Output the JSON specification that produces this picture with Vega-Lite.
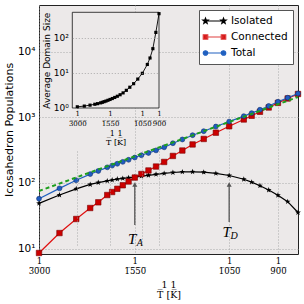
{
  "$schema": "https://vega.github.io/schema/vega-lite/v6.json",
  "width": 259,
  "height": 249,
  "autosize": {"type": "none"},
  "padding": {"left": 39, "top": 5, "right": 6, "bottom": 50},
  "background": "white",
  "config": {
    "font": "DejaVu Sans",
    "view": {"fill": "#ece9e9", "stroke": "#222222", "strokeWidth": 1},
    "axis": {"domain": false, "ticks": false, "gridColor": "#9a9a9a", "gridDash": [1, 2], "gridWidth": 0.8, "labelColor": "#000000", "titleColor": "#000000", "titleFontWeight": "normal", "labelOverlap": false, "labelFlush": false, "labelBound": false},
    "legend": {"orient": "top-right", "offset": 5, "fillColor": "white", "strokeColor": "#555555", "padding": 5, "labelFontSize": 10.5, "labelFont": "DejaVu Sans", "symbolSize": 100, "symbolStrokeWidth": 1.2, "rowPadding": 4, "labelOffset": 15}
  },
  "datasets": {
    "pop": [
      {"T": 3000, "series": "Isolated", "value": 49}, {"T": 3000, "series": "Connected", "value": 8.6}, {"T": 3000, "series": "Total", "value": 57.6},
      {"T": 2500, "series": "Isolated", "value": 65.5}, {"T": 2500, "series": "Connected", "value": 17.3}, {"T": 2500, "series": "Total", "value": 82.8},
      {"T": 2200, "series": "Isolated", "value": 81.5}, {"T": 2200, "series": "Connected", "value": 28.3}, {"T": 2200, "series": "Total", "value": 109.8},
      {"T": 2000, "series": "Isolated", "value": 95}, {"T": 2000, "series": "Connected", "value": 41.6}, {"T": 2000, "series": "Total", "value": 136.6},
      {"T": 1900, "series": "Isolated", "value": 101.5}, {"T": 1900, "series": "Connected", "value": 50.8}, {"T": 1900, "series": "Total", "value": 152.3},
      {"T": 1800, "series": "Isolated", "value": 107.5}, {"T": 1800, "series": "Connected", "value": 65.6}, {"T": 1800, "series": "Total", "value": 173.1},
      {"T": 1750, "series": "Isolated", "value": 111}, {"T": 1750, "series": "Connected", "value": 72.9}, {"T": 1750, "series": "Total", "value": 183.9},
      {"T": 1700, "series": "Isolated", "value": 114.5}, {"T": 1700, "series": "Connected", "value": 81.6}, {"T": 1700, "series": "Total", "value": 196.1},
      {"T": 1650, "series": "Isolated", "value": 117.5}, {"T": 1650, "series": "Connected", "value": 92.3}, {"T": 1650, "series": "Total", "value": 209.8},
      {"T": 1600, "series": "Isolated", "value": 120}, {"T": 1600, "series": "Connected", "value": 105.4}, {"T": 1600, "series": "Total", "value": 225.4},
      {"T": 1550, "series": "Isolated", "value": 123}, {"T": 1550, "series": "Connected", "value": 121}, {"T": 1550, "series": "Total", "value": 244},
      {"T": 1500, "series": "Isolated", "value": 127}, {"T": 1500, "series": "Connected", "value": 137}, {"T": 1500, "series": "Total", "value": 264},
      {"T": 1450, "series": "Isolated", "value": 131}, {"T": 1450, "series": "Connected", "value": 155}, {"T": 1450, "series": "Total", "value": 286},
      {"T": 1400, "series": "Isolated", "value": 135.5}, {"T": 1400, "series": "Connected", "value": 178}, {"T": 1400, "series": "Total", "value": 313.5},
      {"T": 1350, "series": "Isolated", "value": 140}, {"T": 1350, "series": "Connected", "value": 209}, {"T": 1350, "series": "Total", "value": 349},
      {"T": 1300, "series": "Isolated", "value": 144.5}, {"T": 1300, "series": "Connected", "value": 258}, {"T": 1300, "series": "Total", "value": 402.5},
      {"T": 1250, "series": "Isolated", "value": 147.5}, {"T": 1250, "series": "Connected", "value": 312}, {"T": 1250, "series": "Total", "value": 459.5},
      {"T": 1200, "series": "Isolated", "value": 148}, {"T": 1200, "series": "Connected", "value": 386}, {"T": 1200, "series": "Total", "value": 534},
      {"T": 1150, "series": "Isolated", "value": 146}, {"T": 1150, "series": "Connected", "value": 468}, {"T": 1150, "series": "Total", "value": 614},
      {"T": 1100, "series": "Isolated", "value": 140}, {"T": 1100, "series": "Connected", "value": 583}, {"T": 1100, "series": "Total", "value": 723},
      {"T": 1050, "series": "Isolated", "value": 130}, {"T": 1050, "series": "Connected", "value": 730}, {"T": 1050, "series": "Total", "value": 860},
      {"T": 1000, "series": "Isolated", "value": 114}, {"T": 1000, "series": "Connected", "value": 926}, {"T": 1000, "series": "Total", "value": 1040},
      {"T": 975, "series": "Isolated", "value": 103}, {"T": 975, "series": "Connected", "value": 1055}, {"T": 975, "series": "Total", "value": 1158},
      {"T": 950, "series": "Isolated", "value": 91}, {"T": 950, "series": "Connected", "value": 1213}, {"T": 950, "series": "Total", "value": 1304},
      {"T": 925, "series": "Isolated", "value": 78}, {"T": 925, "series": "Connected", "value": 1410}, {"T": 925, "series": "Total", "value": 1488},
      {"T": 900, "series": "Isolated", "value": 65}, {"T": 900, "series": "Connected", "value": 1656}, {"T": 900, "series": "Total", "value": 1721},
      {"T": 875, "series": "Isolated", "value": 52}, {"T": 875, "series": "Connected", "value": 1933}, {"T": 875, "series": "Total", "value": 1985},
      {"T": 850, "series": "Isolated", "value": 35.5}, {"T": 850, "series": "Connected", "value": 2263}, {"T": 850, "series": "Total", "value": 2298.5}
    ],
    "fit": [
      {"T": 3000, "value": 75.5},
      {"T": 850, "value": 2037}
    ],
    "annot": [
      {"T": 1550, "sub": "A", "value": 22.9, "to": 94.8, "ty": 13.8},
      {"T": 1050, "sub": "D", "value": 25.5, "to": 94.8, "ty": 17.9}
    ],
    "frame": [
      {"T": 3500, "T2": 900, "value": 0.97, "value2": 525}
    ],
    "avg": [
      {"T": 3000, "value": 1.05}, {"T": 2500, "value": 1.10}, {"T": 2200, "value": 1.17}, {"T": 2000, "value": 1.24},
      {"T": 1900, "value": 1.29}, {"T": 1800, "value": 1.36}, {"T": 1750, "value": 1.41}, {"T": 1700, "value": 1.47},
      {"T": 1650, "value": 1.53}, {"T": 1600, "value": 1.61}, {"T": 1550, "value": 1.70}, {"T": 1500, "value": 1.81},
      {"T": 1450, "value": 1.94}, {"T": 1400, "value": 2.10}, {"T": 1350, "value": 2.32}, {"T": 1300, "value": 2.62},
      {"T": 1250, "value": 3.1}, {"T": 1200, "value": 3.8}, {"T": 1150, "value": 4.8}, {"T": 1100, "value": 6.5},
      {"T": 1050, "value": 9.5}, {"T": 1000, "value": 17}, {"T": 975, "value": 26}, {"T": 950, "value": 48},
      {"T": 925, "value": 140}, {"T": 900, "value": 480}
    ]
  },
  "layer": [
    {
      "encoding": {
        "x": {"field": "T", "type": "quantitative",
          "scale": {"type": "pow", "exponent": -1, "domain": [3000, 850], "nice": false, "zero": false},
          "axis": {"orient": "bottom", "values": [3000, 1550, 1050, 900], "labelExpr": "['1', replace(toString(datum.value), regexp('([0-9])','g'), '$1\u0305')]", "labelFont": "DejaVu Serif", "labelFontSize": 8.5, "labelLineHeight": 10, "labelPadding": 2, "grid": true,
            "title": ["1    1 ", "T\u0305  [K\u0305]"], "titleFont": "DejaVu Serif", "titleFontSize": 9.5, "titleLineHeight": 10, "titlePadding": 5}},
        "y": {"field": "value", "type": "quantitative",
          "scale": {"type": "log", "domain": [8.3, 51200], "nice": false},
          "axis": {"orient": "left", "values": [10, 100, 1000, 10000], "labelExpr": "'10' + ['\u2070','\u00b9','\u00b2','\u00b3','\u2074','\u2075'][round(log(datum.value)/LN10)]", "labelFontSize": 10.5, "labelPadding": 4, "grid": true,
            "title": "Icosahedron Populations", "titleFontSize": 11, "titlePadding": 3}}
      },
      "layer": [
        {"data": {"name": "pop"}, "transform": [{"filter": "datum.series === 'Isolated'"}],
         "mark": {"type": "line", "color": "#000000", "strokeWidth": 1.2}},
        {"data": {"name": "pop"}, "transform": [{"filter": "datum.series === 'Isolated'"}],
         "mark": {"type": "point", "shape": "M0,-1L0.235,-0.324L0.951,-0.309L0.380,0.124L0.588,0.809L0,0.4L-0.588,0.809L-0.380,0.124L-0.951,-0.309L-0.235,-0.324Z", "filled": true, "opacity": 1, "size": 36, "color": "#000000"}},
        {"data": {"name": "pop"}, "transform": [{"filter": "datum.series === 'Connected'"}],
         "mark": {"type": "line", "color": "#e01010", "strokeWidth": 1.2}},
        {"data": {"name": "pop"}, "transform": [{"filter": "datum.series === 'Connected'"}],
         "mark": {"type": "point", "shape": "square", "filled": true, "opacity": 1, "size": 30, "fill": "#cc0000", "stroke": "#7a0000", "strokeWidth": 0.6}},
        {"data": {"name": "pop"}, "transform": [{"filter": "datum.series === 'Total'"}],
         "mark": {"type": "line", "color": "#2060c0", "strokeWidth": 1.2}},
        {"data": {"name": "pop"}, "transform": [{"filter": "datum.series === 'Total'"}],
         "mark": {"type": "point", "shape": "circle", "filled": true, "opacity": 1, "size": 24, "fill": "#1f5cc0", "stroke": "#0d2f70", "strokeWidth": 0.6}},
        {"data": {"name": "fit"},
         "mark": {"type": "line", "color": "#1e9e1e", "strokeWidth": 2, "strokeDash": [4, 3]}},
        {"data": {"name": "annot"},
         "mark": {"type": "rule", "color": "#555555", "strokeWidth": 1.3},
         "encoding": {"y2": {"field": "to"}}},
        {"data": {"name": "annot"},
         "mark": {"type": "point", "shape": "triangle-up", "filled": true, "opacity": 1, "size": 25, "color": "#555555"},
         "encoding": {"y": {"field": "to", "type": "quantitative"}}},
        {"data": {"name": "annot"},
         "mark": {"type": "text", "font": "Liberation Serif", "fontStyle": "italic", "fontSize": 15, "dx": -2.5, "baseline": "middle", "align": "center"},
         "encoding": {"y": {"field": "ty", "type": "quantitative"}, "text": {"value": "T"}}},
        {"data": {"name": "annot"},
         "mark": {"type": "text", "font": "Liberation Serif", "fontStyle": "italic", "fontSize": 10, "dx": 5, "dy": 4, "baseline": "middle", "align": "center"},
         "encoding": {"y": {"field": "ty", "type": "quantitative"}, "text": {"field": "sub"}}},
        {"data": {"name": "pop"}, "transform": [{"filter": "false"}],
         "mark": {"type": "point", "filled": true, "opacity": 1},
         "encoding": {
           "fill": {"field": "series", "type": "nominal", "scale": {"domain": ["Isolated", "Connected", "Total"], "range": ["#000000", "#d41414", "#2060c0"]}, "legend": {"title": null}},
           "stroke": {"field": "series", "type": "nominal", "scale": {"domain": ["Isolated", "Connected", "Total"], "range": ["#000000", "#e04040", "#2060c0"]}, "legend": {"title": null}},
           "shape": {"field": "series", "type": "nominal", "scale": {"domain": ["Isolated", "Connected", "Total"], "range": [
             "M-0.9,0H2.7M-0.9,-0.56L-0.765,-0.186L-0.367,-0.173L-0.681,0.071L-0.571,0.453L-0.9,0.23L-1.229,0.453L-1.119,0.071L-1.433,-0.173L-1.035,-0.186ZM2.7,-0.56L2.835,-0.186L3.233,-0.173L2.919,0.071L3.029,0.453L2.7,0.23L2.371,0.453L2.481,0.071L2.167,-0.173L2.565,-0.186Z",
             "M-0.9,0H2.7M-1.35,-0.45H-0.45V0.45H-1.35ZM2.25,-0.45H3.15V0.45H2.25Z",
             "M-0.9,0H2.7M-1.35,0A0.45,0.45,0,1,0,-0.45,0A0.45,0.45,0,1,0,-1.35,0ZM2.25,0A0.45,0.45,0,1,0,3.15,0A0.45,0.45,0,1,0,2.25,0Z"
           ]}, "legend": {"title": null}}
         }}
      ]
    },
    {
      "encoding": {
        "x": {"field": "T", "type": "quantitative",
          "scale": {"type": "pow", "exponent": -1, "domain": [3500, 900], "range": [33.3, 120], "nice": false, "zero": false},
          "axis": {"orient": "bottom", "offset": -146, "zindex": 1, "values": [3000, 1550, 1050, 900], "labelExpr": "['1', replace(toString(datum.value), regexp('([0-9])','g'), '$1\u0305')]", "labelFont": "DejaVu Serif", "labelFontSize": 7, "labelLineHeight": 10, "labelPadding": 1, "grid": true,
            "title": ["1    1 ", "T\u0305  [K\u0305]"], "titleFont": "DejaVu Serif", "titleFontSize": 8, "titleLineHeight": 9, "titlePadding": 3}},
        "y": {"field": "value", "type": "quantitative",
          "scale": {"type": "log", "domain": [0.97, 525], "range": [103, 7.3], "nice": false},
          "axis": {"orient": "left", "offset": -33.3, "zindex": 1, "values": [1, 10, 100], "labelExpr": "'10' + ['\u2070','\u00b9','\u00b2','\u00b3','\u2074','\u2075'][round(log(datum.value)/LN10)]", "labelFontSize": 9, "labelPadding": 4, "grid": true,
            "title": "Average Domain Size", "titleFontSize": 9, "titlePadding": 2}}
      },
      "layer": [
        {"data": {"name": "frame"},
         "mark": {"type": "rect", "fill": "#ece9e9", "stroke": "#111111", "strokeWidth": 0.8},
         "encoding": {"x2": {"field": "T2"}, "y2": {"field": "value2"}}},
        {"data": {"name": "avg"},
         "mark": {"type": "line", "color": "#000000", "strokeWidth": 0.9}},
        {"data": {"name": "avg"},
         "mark": {"type": "point", "shape": "square", "filled": true, "opacity": 1, "size": 10, "color": "#000000"}}
      ]
    }
  ],
  "resolve": {"scale": {"x": "independent", "y": "independent"}}
}
